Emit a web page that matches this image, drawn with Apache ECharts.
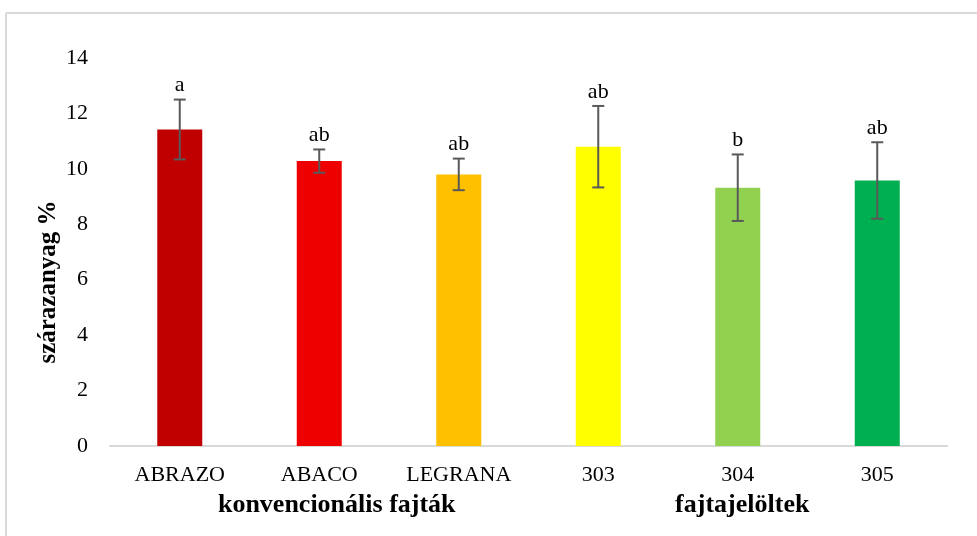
<!DOCTYPE html>
<html>
<head>
<meta charset="utf-8">
<script src="https://cdn.jsdelivr.net/npm/echarts@6/dist/echarts.min.js"></script>
<style>
  html, body { margin: 0; padding: 0; background: #fff; }
  #chart1 { width: 977px; height: 536px; }
</style>
</head>
<body>
<div id="chart1"></div>
<script>
var categories = ['ABRAZO', 'ABACO', 'LEGRANA', '303', '304', '305'];
var values = [11.42, 10.28, 9.8, 10.8, 9.32, 9.58];
var errors = [1.08, 0.42, 0.57, 1.47, 1.2, 1.38];
var letters = ['a', 'ab', 'ab', 'ab', 'b', 'ab'];
var colors = ['#C00000', '#EE0000', '#FFC000', '#FFFF00', '#92D050', '#00B050'];
var groups = ['', 'konvencionális fajták', '', '', 'fajtajelöltek', ''];
var font = '"Liberation Serif", "Times New Roman", serif';

var chartDom1 = document.getElementById('chart1');
var myChart1 = echarts.init(chartDom1);

// error bar data: [index, low, high]
var errData = [];
values.forEach(function (v, i) {
  errData.push([i, v - errors[i], v + errors[i]]);
});

var groupData = groups.map(function (g, i) {
  if (i == 1) return { value: g, textStyle: { padding: [0, 0, 0, 35] } };
  if (i == 4) return { value: g, textStyle: { padding: [0, 0, 0, 9] } };
  return g;
});

var option1 = {
  animation: false,
  textStyle: { fontFamily: font },
  grid: { left: 110, right: 30, top: 58, bottom: 90 },
  xAxis: [
    {
      type: 'category',
      data: categories,
      axisLine: { lineStyle: { color: '#D9D9D9', width: 2 } },
      axisTick: { show: false },
      axisLabel: { color: '#000', fontSize: 22, fontFamily: font, margin: 18 }
    },
    {
      type: 'category',
      data: groupData,
      position: 'bottom',
      offset: 30,
      axisLine: { show: false },
      axisTick: { show: false },
      axisLabel: { color: '#000', fontSize: 26, fontWeight: 'bold', fontFamily: font, margin: 16, interval: 0 }
    }
  ],
  yAxis: {
    type: 'value',
    min: 0,
    max: 14,
    interval: 2,
    splitLine: { show: false },
    axisLine: { show: false },
    axisTick: { show: false },
    axisLabel: { color: '#000', fontSize: 22, fontFamily: font, margin: 22 }
  },
  graphic: [
    { type: 'line', shape: { x1: 6, y1: 13, x2: 977, y2: 13 }, style: { stroke: '#D9D9D9', lineWidth: 2 } },
    { type: 'line', shape: { x1: 6, y1: 13, x2: 6, y2: 536 }, style: { stroke: '#D9D9D9', lineWidth: 2 } },
    {
      type: 'text', x: 49, y: 282, rotation: Math.PI / 2,
      style: { text: 'szárazanyag %', font: 'bold 25px ' + font, fill: '#000', align: 'center', verticalAlign: 'middle' }
    }
  ],
  series: [
    {
      type: 'bar',
      barWidth: 45,
      data: values.map(function (v, i) {
        return { value: v, itemStyle: { color: colors[i] } };
      })
    },
    {
      type: 'custom',
      data: errData,
      z: 10,
      renderItem: function (params, api) {
        var idx = api.value(0);
        var hi = api.coord([idx, api.value(2)]);
        var lo = api.coord([idx, api.value(1)]);
        var w = 6;
        var st = { stroke: '#595959', lineWidth: 2 };
        return {
          type: 'group',
          children: [
            { type: 'line', shape: { x1: hi[0], y1: hi[1], x2: lo[0], y2: lo[1] }, style: st },
            { type: 'line', shape: { x1: hi[0] - w, y1: hi[1], x2: hi[0] + w, y2: hi[1] }, style: st },
            { type: 'line', shape: { x1: lo[0] - w, y1: lo[1], x2: lo[0] + w, y2: lo[1] }, style: st },
            {
              type: 'text', x: hi[0], y: hi[1] - 3,
              style: { text: letters[params.dataIndex], font: '22px ' + font, fill: '#000', align: 'center', verticalAlign: 'bottom' }
            }
          ]
        };
      }
    }
  ]
};

myChart1.setOption(option1);
</script>
</body>
</html>
